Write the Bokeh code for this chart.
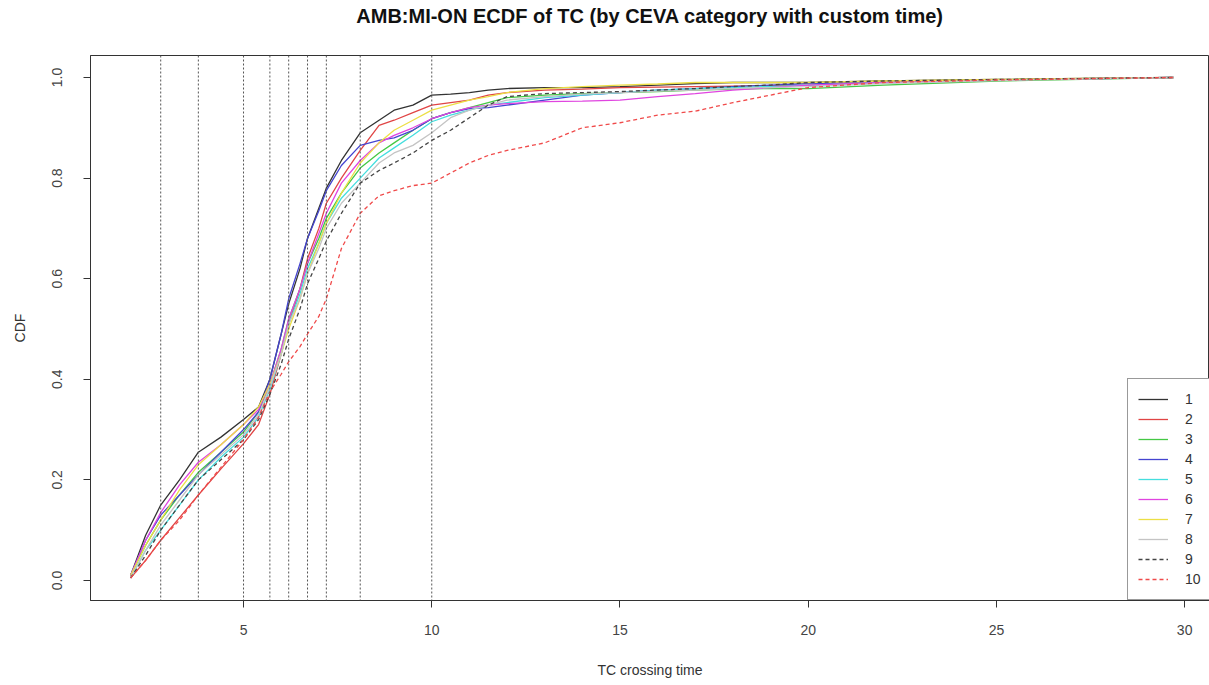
from bokeh.plotting import figure
from bokeh.models import Span, Legend, LegendItem, FixedTicker, PrintfTickFormatter, Range1d, Title
from bokeh.embed import file_html
from bokeh.resources import INLINE

# ---- data ----
x_knots = [2.0, 2.4, 2.8, 3.3, 3.8, 4.4, 5.0, 5.4, 5.7, 6.0, 6.2, 6.5, 6.7, 7.0, 7.2, 7.6,
           8.1, 8.6, 9.0, 9.5, 10.0, 10.5, 11.0, 11.5, 12.0, 13.0, 14.0, 15.0, 16.0, 17.0,
           18.0, 19.0, 20.0, 22.0, 25.0, 29.7]

cat1 = [0.01, 0.09, 0.15, 0.20, 0.255, 0.285, 0.32, 0.345, 0.40, 0.49, 0.55, 0.62, 0.68, 0.74, 0.78, 0.835,
        0.89, 0.915, 0.935, 0.945, 0.965, 0.967, 0.970, 0.975, 0.978, 0.980, 0.980, 0.982, 0.985, 0.988,
        0.990, 0.990, 0.990, 0.993, 0.996, 1.0]
cat2 = [0.005, 0.04, 0.08, 0.125, 0.17, 0.222, 0.272, 0.31, 0.37, 0.45, 0.51, 0.58, 0.64, 0.70, 0.75, 0.80,
        0.855, 0.905, 0.915, 0.93, 0.945, 0.95, 0.955, 0.965, 0.97, 0.975, 0.977, 0.98, 0.981, 0.982,
        0.983, 0.984, 0.985, 0.99, 0.995, 1.0]
cat3 = [0.01, 0.07, 0.12, 0.17, 0.215, 0.255, 0.295, 0.335, 0.39, 0.46, 0.52, 0.58, 0.63, 0.68, 0.72, 0.77,
        0.82, 0.85, 0.87, 0.895, 0.918, 0.93, 0.94, 0.95, 0.96, 0.965, 0.968, 0.97, 0.972, 0.975,
        0.977, 0.978, 0.978, 0.985, 0.993, 1.0]
cat4 = [0.01, 0.08, 0.13, 0.17, 0.21, 0.255, 0.30, 0.335, 0.40, 0.49, 0.56, 0.63, 0.68, 0.735, 0.775, 0.825,
        0.865, 0.875, 0.88, 0.895, 0.918, 0.93, 0.938, 0.94, 0.945, 0.955, 0.965, 0.97, 0.975, 0.978,
        0.982, 0.985, 0.988, 0.99, 0.995, 1.0]
cat5 = [0.005, 0.06, 0.10, 0.15, 0.20, 0.245, 0.285, 0.325, 0.38, 0.45, 0.51, 0.57, 0.62, 0.67, 0.71, 0.76,
        0.80, 0.84, 0.86, 0.885, 0.912, 0.925, 0.935, 0.945, 0.95, 0.96, 0.965, 0.97, 0.975, 0.978,
        0.98, 0.982, 0.985, 0.99, 0.995, 1.0]
cat6 = [0.01, 0.08, 0.135, 0.19, 0.235, 0.27, 0.31, 0.34, 0.39, 0.46, 0.52, 0.58, 0.63, 0.69, 0.73, 0.79,
        0.835, 0.87, 0.885, 0.90, 0.918, 0.93, 0.94, 0.945, 0.948, 0.952, 0.953, 0.955, 0.962, 0.968,
        0.975, 0.98, 0.985, 0.99, 0.995, 1.0]
cat7 = [0.01, 0.07, 0.12, 0.18, 0.23, 0.27, 0.31, 0.345, 0.39, 0.45, 0.50, 0.56, 0.61, 0.67, 0.71, 0.77,
        0.83, 0.87, 0.895, 0.915, 0.935, 0.945, 0.955, 0.962, 0.97, 0.978, 0.982, 0.985, 0.987, 0.99,
        0.99, 0.99, 0.99, 0.993, 0.996, 1.0]
cat8 = [0.005, 0.06, 0.11, 0.16, 0.21, 0.25, 0.29, 0.33, 0.385, 0.45, 0.51, 0.56, 0.61, 0.66, 0.70, 0.75,
        0.79, 0.83, 0.85, 0.865, 0.89, 0.92, 0.935, 0.945, 0.955, 0.962, 0.967, 0.97, 0.973, 0.975,
        0.978, 0.98, 0.982, 0.988, 0.994, 1.0]
cat9 = [0.005, 0.05, 0.10, 0.15, 0.20, 0.24, 0.28, 0.32, 0.37, 0.43, 0.48, 0.54, 0.59, 0.64, 0.675, 0.73,
        0.79, 0.815, 0.83, 0.85, 0.875, 0.895, 0.92, 0.945, 0.962, 0.968, 0.97, 0.972, 0.975, 0.978,
        0.982, 0.985, 0.99, 0.993, 0.996, 1.0]
cat10 = [0.005, 0.04, 0.08, 0.12, 0.17, 0.225, 0.28, 0.325, 0.375, 0.41, 0.435, 0.465, 0.49, 0.525, 0.56, 0.66,
         0.73, 0.765, 0.775, 0.785, 0.79, 0.81, 0.83, 0.845, 0.855, 0.87, 0.90, 0.91, 0.925, 0.933,
         0.95, 0.965, 0.98, 0.99, 0.995, 1.0]

series = [cat1, cat2, cat3, cat4, cat5, cat6, cat7, cat8, cat9, cat10]
labels = ["1", "2", "3", "4", "5", "6", "7", "8", "9", "10"]
custom_times = [2.8, 3.8, 5.0, 5.7, 6.2, 6.7, 7.2, 8.1, 10.0]
x_ticks = [5, 10, 15, 20, 25, 30]
y_ticks = [0.0, 0.2, 0.4, 0.6, 0.8, 1.0]
title_text = "AMB:MI-ON ECDF of TC (by CEVA category with custom time)"

# ---- styles ----
colors = ["#333333", "#e04545", "#45c845", "#4545d0", "#45dede", "#e045e0",
          "#ecdf45", "#c4c4c4", "#444444", "#f04a4a"]
dashes = ["solid"] * 8 + ["4 3", "4 3"]

FONT = "Liberation Sans"

p = figure(frame_width=1119, frame_height=545,
           x_range=Range1d(0.935, 30.66), y_range=Range1d(-0.0398, 1.0437),
           min_border_left=90, min_border_right=0, min_border_top=55, min_border_bottom=85,
           output_backend="svg", toolbar_location=None,
           background_fill_color="white", border_fill_color="white")

p.xgrid.visible = False
p.ygrid.visible = False
p.outline_line_color = "#333333"
p.outline_line_width = 1

p.title.text = title_text
p.title.align = "center"
p.title.vertical_align = "top"
p.title.text_font = FONT
p.title.text_font_style = "bold"
p.title.text_font_size = "20px"
p.title.text_color = "#111111"
p.title.standoff = 0

# blank spacer panel between the frame and the (outermost) title
spacer = Title(text=" ", text_font=FONT, text_font_size="20px", standoff=3)
p.add_layout(spacer, "above")

for ax in (p.xaxis[0], p.yaxis[0]):
    ax.axis_line_color = "#333333"
    ax.major_tick_line_color = "#333333"
    ax.minor_tick_line_color = None
    ax.major_tick_in = 0
    ax.major_tick_out = 7
    ax.major_label_text_font = FONT
    ax.major_label_text_font_size = "14px"
    ax.major_label_text_color = "#444444"
    ax.axis_label_text_font = FONT
    ax.axis_label_text_font_size = "14px"
    ax.axis_label_text_font_style = "normal"
    ax.axis_label_text_color = "#333333"

p.xaxis.ticker = FixedTicker(ticks=x_ticks)
p.xaxis.axis_label = "TC crossing time"
p.xaxis.major_label_standoff = 17
p.xaxis.axis_label_standoff = 24

p.yaxis.ticker = FixedTicker(ticks=y_ticks)
p.yaxis.formatter = PrintfTickFormatter(format="%.1f")
p.yaxis.major_label_orientation = "vertical"
p.yaxis.axis_label = "CDF"
p.yaxis.major_label_standoff = 21
p.yaxis.axis_label_standoff = 22

for t in custom_times:
    p.add_layout(Span(location=t, dimension="height", line_color="#555555",
                      line_width=1, line_dash="2 2"))

items = []
for ys, lab, c, d in zip(series, labels, colors, dashes):
    r = p.line(x_knots, ys, line_color=c, line_width=1.3, line_dash=d)
    items.append(LegendItem(label=lab, renderers=[r]))

legend = Legend(items=items, location=(1037, 0), margin=0, padding=10, spacing=0,
                label_height=20, glyph_height=20, glyph_width=30, label_standoff=17,
                label_text_font=FONT, label_text_font_size="14px", label_text_color="#333333",
                border_line_color="#333333", border_line_width=1,
                background_fill_color="white", background_fill_alpha=1.0)
p.add_layout(legend, "center")

open("out.html", "w").write(file_html(p, INLINE))
